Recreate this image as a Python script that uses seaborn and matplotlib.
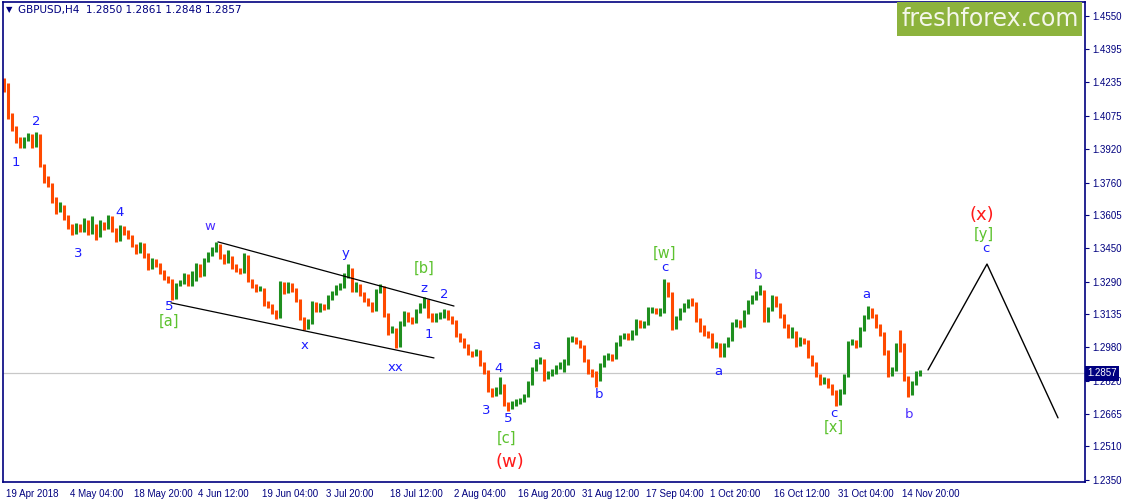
import numpy as np
import pandas as pd
import matplotlib.pyplot as plt
import matplotlib.transforms as mtransforms
from matplotlib.patches import Rectangle
import seaborn as sns

# ---- data (GBPUSD H4, one point every 4 bars) ----
symbol_title = "GBPUSD,H4  1.2850 1.2861 1.2848 1.2857"
last_price = 1.2857
first_open = 1.4250
bars_per_point = 4

closes = [
    1.4223, 1.4081, 1.4019, 1.3962, 1.3934, 1.3962, 1.3981, 1.3934, 1.3981, 1.3844,
    1.3773, 1.3754, 1.3678, 1.3630, 1.3645, 1.3597, 1.3555, 1.3526, 1.3555, 1.3536,
    1.3574, 1.3526, 1.3555, 1.3507, 1.3564, 1.3545, 1.3593, 1.3536, 1.3488, 1.3545,
    1.3526, 1.3503, 1.3465, 1.3431, 1.3465, 1.3417, 1.3356, 1.3393, 1.3370, 1.3337,
    1.3308, 1.3299, 1.3213, 1.3275, 1.3289, 1.3318, 1.3280, 1.3299, 1.3365, 1.3322,
    1.3393, 1.3417, 1.3441, 1.3460, 1.3412, 1.3384, 1.3403, 1.3365, 1.3346, 1.3337,
    1.3412, 1.3299, 1.3270, 1.3251, 1.3256, 1.3185, 1.3175, 1.3147, 1.3128, 1.3280,
    1.3242, 1.3275, 1.3251, 1.3204, 1.3119, 1.3071, 1.3100, 1.3185, 1.3156, 1.3175,
    1.3166, 1.3213, 1.3232, 1.3261, 1.3266, 1.3318, 1.3346, 1.3251, 1.3270, 1.3232,
    1.3204, 1.3185, 1.3156, 1.3242, 1.3261, 1.3133, 1.3052, 1.3062, 1.2986, 1.3090,
    1.3138, 1.3109, 1.3100, 1.3147, 1.3175, 1.3204, 1.3128, 1.3109, 1.3128, 1.3128,
    1.3147, 1.3119, 1.3100, 1.3038, 1.3014, 1.2986, 1.2953, 1.2943, 1.2957, 1.2901,
    1.2863, 1.2777, 1.2758, 1.2768, 1.2796, 1.2711, 1.2692, 1.2711, 1.2720, 1.2725,
    1.2749, 1.2806, 1.2872, 1.2910, 1.2919, 1.2834, 1.2853, 1.2863, 1.2882, 1.2896,
    1.2901, 1.3014, 1.3024, 1.3005, 1.2986, 1.2919, 1.2863, 1.2853, 1.2825, 1.2891,
    1.2929, 1.2938, 1.2929, 1.2991, 1.3029, 1.3033, 1.3024, 1.3047, 1.3100, 1.3081,
    1.3090, 1.3156, 1.3156, 1.3147, 1.3147, 1.3280, 1.3232, 1.3071, 1.3119, 1.3156,
    1.3175, 1.3194, 1.3185, 1.3109, 1.3062, 1.3043, 1.3038, 1.2986, 1.2991, 1.2943,
    1.2986, 1.3014, 1.3085, 1.3100, 1.3081, 1.3142, 1.3194, 1.3213, 1.3232, 1.3242,
    1.3109, 1.3156, 1.3213, 1.3180, 1.3128, 1.3081, 1.3033, 1.3047, 1.2991, 1.3014,
    1.3005, 1.2938, 1.2901, 1.2848, 1.2810, 1.2825, 1.2796, 1.2768, 1.2711, 1.2768,
    1.2844, 1.2995, 1.3005, 1.2986, 1.3062, 1.3119, 1.3156, 1.3128, 1.3081, 1.3043,
    1.2957, 1.2853, 1.2872, 1.2986, 1.2967, 1.2834, 1.2758, 1.2806, 1.2853, 1.2857,
]

highs = [
    1.4255, 1.4230, 1.4090, 1.4028, 1.3975, 1.3978, 1.3995, 1.3990, 1.4000, 1.3990,
    1.3850, 1.3790, 1.3760, 1.3690, 1.3668, 1.3652, 1.3605, 1.3565, 1.3570, 1.3566,
    1.3590, 1.3582, 1.3600, 1.3565, 1.3585, 1.3575, 1.3605, 1.3600, 1.3545, 1.3560,
    1.3552, 1.3535, 1.3510, 1.3470, 1.3478, 1.3472, 1.3425, 1.3405, 1.3400, 1.3378,
    1.3345, 1.3318, 1.3305, 1.3285, 1.3300, 1.3330, 1.3325, 1.3340, 1.3378, 1.3372,
    1.3405, 1.3430, 1.3455, 1.3478, 1.3468, 1.3420, 1.3440, 1.3410, 1.3372, 1.3356,
    1.3428, 1.3418, 1.3305, 1.3280, 1.3268, 1.3262, 1.3200, 1.3185, 1.3158, 1.3292,
    1.3288, 1.3290, 1.3285, 1.3260, 1.3210, 1.3125, 1.3112, 1.3198, 1.3192, 1.3190,
    1.3185, 1.3225, 1.3245, 1.3275, 1.3285, 1.3332, 1.3372, 1.3355, 1.3290, 1.3280,
    1.3240, 1.3215, 1.3195, 1.3258, 1.3280, 1.3270, 1.3140, 1.3080, 1.3070, 1.3102,
    1.3152, 1.3145, 1.3125, 1.3160, 1.3190, 1.3218, 1.3210, 1.3140, 1.3142, 1.3145,
    1.3160, 1.3158, 1.3130, 1.3108, 1.3045, 1.3022, 1.2995, 1.2962, 1.2970, 1.2965,
    1.2910, 1.2870, 1.2788, 1.2790, 1.2840, 1.2805, 1.2722, 1.2725, 1.2735, 1.2740,
    1.2760, 1.2818, 1.2885, 1.2922, 1.2935, 1.2925, 1.2868, 1.2878, 1.2895, 1.2910,
    1.2925, 1.3028, 1.3035, 1.3030, 1.3012, 1.2992, 1.2925, 1.2875, 1.2865, 1.2905,
    1.2942, 1.2952, 1.2950, 1.3005, 1.3040, 1.3048, 1.3045, 1.3060, 1.3112, 1.3110,
    1.3105, 1.3170, 1.3172, 1.3168, 1.3165, 1.3305, 1.3290, 1.3240, 1.3130, 1.3168,
    1.3190, 1.3210, 1.3215, 1.3195, 1.3118, 1.3085, 1.3058, 1.3045, 1.3005, 1.3000,
    1.2998, 1.3028, 1.3098, 1.3115, 1.3110, 1.3155, 1.3205, 1.3228, 1.3245, 1.3275,
    1.3250, 1.3170, 1.3228, 1.3222, 1.3188, 1.3135, 1.3090, 1.3075, 1.3055, 1.3028,
    1.3025, 1.3012, 1.2945, 1.2908, 1.2855, 1.2840, 1.2832, 1.2805, 1.2775, 1.2780,
    1.2855, 1.3008, 1.3020, 1.3012, 1.3075, 1.3132, 1.3175, 1.3165, 1.3138, 1.3090,
    1.3050, 1.2965, 1.2885, 1.3000, 1.3060, 1.3000, 1.2842, 1.2818, 1.2868, 1.2870,
]

lows = [
    1.4190, 1.4062, 1.4005, 1.3950, 1.3922, 1.3925, 1.3955, 1.3925, 1.3928, 1.3835,
    1.3760, 1.3740, 1.3665, 1.3612, 1.3620, 1.3585, 1.3540, 1.3510, 1.3518, 1.3525,
    1.3528, 1.3512, 1.3518, 1.3490, 1.3500, 1.3535, 1.3540, 1.3525, 1.3478, 1.3482,
    1.3512, 1.3495, 1.3455, 1.3420, 1.3425, 1.3405, 1.3345, 1.3350, 1.3360, 1.3328,
    1.3298, 1.3285, 1.3205, 1.3208, 1.3268, 1.3280, 1.3270, 1.3272, 1.3292, 1.3312,
    1.3315, 1.3385, 1.3410, 1.3432, 1.3400, 1.3372, 1.3378, 1.3352, 1.3335, 1.3325,
    1.3330, 1.3290, 1.3260, 1.3240, 1.3245, 1.3175, 1.3165, 1.3138, 1.3112, 1.3120,
    1.3230, 1.3235, 1.3240, 1.3195, 1.3110, 1.3060, 1.3065, 1.3092, 1.3145, 1.3148,
    1.3155, 1.3160, 1.3205, 1.3225, 1.3250, 1.3260, 1.3310, 1.3240, 1.3242, 1.3222,
    1.3195, 1.3175, 1.3145, 1.3150, 1.3235, 1.3122, 1.3040, 1.3045, 1.2975, 1.2980,
    1.3082, 1.3098, 1.3090, 1.3095, 1.3140, 1.3168, 1.3118, 1.3098, 1.3100, 1.3115,
    1.3120, 1.3110, 1.3090, 1.3028, 1.3005, 1.2975, 1.2945, 1.2932, 1.2938, 1.2892,
    1.2852, 1.2768, 1.2745, 1.2750, 1.2760, 1.2700, 1.2678, 1.2685, 1.2702, 1.2710,
    1.2718, 1.2742, 1.2800, 1.2865, 1.2900, 1.2822, 1.2828, 1.2845, 1.2855, 1.2875,
    1.2860, 1.2895, 1.3005, 1.2995, 1.2975, 1.2908, 1.2852, 1.2840, 1.2790, 1.2818,
    1.2885, 1.2920, 1.2915, 1.2922, 1.2985, 1.3020, 1.3012, 1.3015, 1.3040, 1.3070,
    1.3072, 1.3085, 1.3140, 1.3135, 1.3130, 1.3140, 1.3220, 1.3062, 1.3065, 1.3110,
    1.3148, 1.3168, 1.3175, 1.3098, 1.3052, 1.3035, 1.3025, 1.2975, 1.2975, 1.2932,
    1.2935, 1.2980, 1.3008, 1.3075, 1.3070, 1.3075, 1.3135, 1.3185, 1.3205, 1.3225,
    1.3098, 1.3100, 1.3150, 1.3170, 1.3118, 1.3070, 1.3022, 1.3025, 1.2980, 1.2985,
    1.2995, 1.2928, 1.2890, 1.2838, 1.2800, 1.2805, 1.2785, 1.2755, 1.2700, 1.2705,
    1.2760, 1.2838, 1.2988, 1.2975, 1.2980, 1.3055, 1.3112, 1.3118, 1.3070, 1.3032,
    1.2945, 1.2840, 1.2845, 1.2865, 1.2955, 1.2822, 1.2745, 1.2752, 1.2800, 1.2845,
]

date_labels = ["19 Apr 2018", "4 May 04:00", "18 May 20:00", "4 Jun 12:00",
               "19 Jun 04:00", "3 Jul 20:00", "18 Jul 12:00", "2 Aug 04:00",
               "16 Aug 20:00", "31 Aug 12:00", "17 Sep 04:00", "1 Oct 20:00",
               "16 Oct 12:00", "31 Oct 04:00", "14 Nov 20:00"]
bars_per_label = 64

price_ticks = [1.4550, 1.4395, 1.4235, 1.4075, 1.3920, 1.3760, 1.3605, 1.3450,
               1.3290, 1.3135, 1.2980, 1.2820, 1.2665, 1.2510, 1.2350]

# forecast path and the wedge channel (bar index, price)
projection_bars = [924, 983, 1054]
projection_prices = [1.2872, 1.3374, 1.2645]
upper_channel_bars = [214, 450]
upper_channel_prices = [1.3479, 1.3175]
lower_channel_bars = [167, 430]
lower_channel_prices = [1.3190, 1.2929]

# wave labels: text, bar, price, kind
wave_labels = [
    ("1", 12, 1.3853, "blue"), ("2", 32, 1.4048, "blue"),
    ("3", 74, 1.3422, "blue"), ("4", 116, 1.3616, "blue"),
    ("5", 165, 1.3171, "blue"), ("[a]", 165, 1.3104, "green"),
    ("w", 206, 1.3550, "violet"), ("x", 301, 1.2986, "blue"),
    ("y", 342, 1.3422, "blue"), ("xx", 391, 1.2886, "blue"),
    ("z", 420, 1.3256, "blue"), ("[b]", 420, 1.3356, "green"),
    ("2", 440, 1.3228, "blue"), ("1", 425, 1.3038, "blue"),
    ("4", 495, 1.2877, "blue"), ("3", 482, 1.2678, "blue"),
    ("5", 504, 1.2640, "blue"), ("[c]", 503, 1.2550, "green"),
    ("(w)", 506, 1.2436, "red"), ("a", 532, 1.2986, "blue"),
    ("b", 595, 1.2758, "blue"), ("[w]", 660, 1.3427, "green"),
    ("c", 661, 1.3356, "blue"), ("a", 714, 1.2867, "blue"),
    ("b", 754, 1.3318, "violet"), ("c", 830, 1.2664, "blue"),
    ("[x]", 830, 1.2602, "green"), ("a", 862, 1.3228, "blue"),
    ("b", 905, 1.2659, "violet"), ("(x)", 978, 1.3607, "red"),
    ("[y]", 980, 1.3512, "green"), ("c", 982, 1.3446, "blue"),
]

# ---- build the bar table ----
df = pd.DataFrame({"close": closes, "high": highs, "low": lows})
df["bar"] = np.arange(len(df)) * bars_per_point
df["open"] = [first_open] + closes[:-1]
df["up"] = df["close"] >= df["open"]

navy = "#00007f"
label_styles = {
    "blue": dict(color="#1c1cff", fontsize=9.5),
    "violet": dict(color="#4a2cff", fontsize=9.5),
    "green": dict(color="#5cc22e", fontsize=10.5),
    "red": dict(color="#ff1a1a", fontsize=13),
}
tick_font = ["Liberation Sans", "DejaVu Sans"]

sns.set_theme(style="white")
plt.rcParams["font.family"] = ["DejaVu Sans"]

W, H = 1124, 503
fig = plt.figure(figsize=(W / 100, H / 100), dpi=100)
ax = fig.add_axes([3 / W, 21 / H, 1082 / W, 480 / H])

# bars: high-low range coloured by direction
ax.vlines(df["bar"], df["low"], df["high"],
          colors=np.where(df["up"], "#1f8f1f", "#ff4a00"), linewidth=2.2)

# current price line
ax.axhline(last_price, color="#c8c8c8", lw=0.9, zorder=0)

# channel + forecast
sns.lineplot(x=upper_channel_bars, y=upper_channel_prices, color="black", lw=0.9, ax=ax)
sns.lineplot(x=lower_channel_bars, y=lower_channel_prices, color="black", lw=0.9, ax=ax)
sns.lineplot(x=projection_bars, y=projection_prices, color="black", lw=1.0, ax=ax,
             sort=False)

for txt, b, p, kind in wave_labels:
    ax.text(b, p, txt, ha="center", va="center", **label_styles[kind])

# axes styling
ax.set_xlim(-1, 1081)
ax.set_ylim(1.2341, 1.4616)
ax.set_xlabel("")
ax.set_ylabel("")
for s in ax.spines.values():
    s.set_color(navy)
    s.set_linewidth(1.2)

ax.yaxis.tick_right()
ax.set_yticks(price_ticks)
ax.set_yticklabels([f"{v:.4f}" for v in price_ticks], family=tick_font)
ax.tick_params(axis="y", direction="out", length=3, width=0.8, color=navy,
               labelcolor=navy, labelsize=7, pad=2)

ax.set_xticks(np.arange(len(date_labels)) * bars_per_label)
ax.set_xticklabels(date_labels, ha="left", family=tick_font)
ax.tick_params(axis="x", direction="out", length=4, width=0.8, color=navy,
               labelcolor=navy, labelsize=7, pad=1)
shift = mtransforms.ScaledTranslation(2 / 100, 0, fig.dpi_scale_trans)
for lab in ax.get_xticklabels():
    lab.set_transform(lab.get_transform() + shift)

# last price tag on the axis
blend = mtransforms.blended_transform_factory(ax.transAxes, ax.transData)
ax.text(1.002, last_price, f"{last_price:.4f}", transform=blend, ha="left", va="center",
        color="white", fontsize=7, family=tick_font, clip_on=False,
        bbox=dict(boxstyle="square,pad=0.25", fc="#000080", ec="none"))

# header text and watermark
fig.text(6 / W, 1 - 10 / H, "\u25bc", color=navy, fontsize=6, va="center")
fig.text(18 / W, 1 - 10 / H, symbol_title, color=navy, fontsize=7.5, va="center")
fig.patches.append(Rectangle((897 / W, 1 - 36 / H), 185 / W, 34 / H,
                             transform=fig.transFigure, fc="#8db33d", ec="none"))
fig.text(990 / W, 1 - 19 / H, "freshforex.com", color="#f4f6ea", fontsize=17,
         ha="center", va="center")

fig.savefig("out.png", dpi=100)
